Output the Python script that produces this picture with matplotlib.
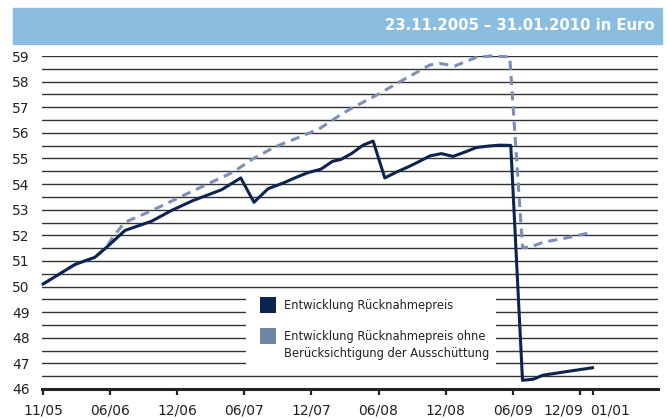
import numpy as np
import matplotlib.pyplot as plt
from matplotlib.patches import Rectangle
from matplotlib.transforms import ScaledTranslation

# x = months since 11/2005 (chart axis is evenly spaced by 6 months)
TICK_POS = [0, 6, 12, 18, 24, 30, 36, 42, 48, 49.2]
TICK_LABELS = ["11/05", "06/06", "12/06", "06/07", "12/07", "06/08",
               "12/08", "06/09", "12/09", "01/01"]

# Entwicklung Rücknahmepreis
solid_x = [0, 2.84, 4.62, 5.67, 7.32, 9.70, 11.48, 13.42, 15.96, 17.68,
           18.86, 20.12, 21.47, 22.51, 23.70, 24.84, 25.89, 26.63, 27.58,
           28.62, 29.52, 30.56, 31.61, 32.65, 33.54, 34.59, 35.63, 36.67,
           37.72, 38.77, 39.96, 40.85, 41.83, 42.88, 43.83, 44.72, 46.82, 49.14]
solid_y = [50.10, 50.86, 51.14, 51.53, 52.19, 52.55, 52.97, 53.36, 53.78, 54.24,
           53.29, 53.82, 54.04, 54.24, 54.45, 54.58, 54.89, 54.96, 55.19,
           55.52, 55.68, 54.24, 54.47, 54.67, 54.86, 55.10, 55.19, 55.08,
           55.25, 55.43, 55.49, 55.52, 55.51, 46.34, 46.38, 46.54, 46.68, 46.83]

# Entwicklung Rücknahmepreis ohne Berücksichtigung der Ausschüttung
dash_x = [0, 2.84, 4.62, 5.67, 6.23, 7.32, 9.70, 12.23, 14.46, 16.97, 18.78,
          20.72, 22.96, 24.75, 26.54, 27.43, 30.11, 31.64, 34.59, 35.48,
          36.82, 38.77, 39.96, 41.74, 42.88, 43.54, 44.72, 46.82, 49.14]
dash_y = [50.10, 50.86, 51.14, 51.53, 51.93, 52.51, 52.96, 53.49, 53.95, 54.46, 54.99,
          55.45, 55.84, 56.17, 56.69, 56.92, 57.54, 57.93, 58.65, 58.71,
          58.61, 58.95, 59.00, 58.97, 51.53, 51.53, 51.73, 51.90, 52.12]

DARK = "#0b2550"
LIGHT = "#7b8fb8"
BAND = "#8bbde0"

plt.rcParams["font.family"] = ["DejaVu Sans"]

fig = plt.figure(figsize=(6.67, 4.19), dpi=100)
ax = fig.add_axes([0.063, 0.0716, 0.9235, 0.7947])

# header band
fig.patches.append(Rectangle((13 / 667, 1 - 44 / 419), (662 - 13) / 667, 36 / 419,
                             transform=fig.transFigure, color=BAND, zorder=0))
fig.text(655 / 667, 1 - 26 / 419, "23.11.2005 \u2013 31.01.2010 in Euro",
         color="white", fontsize=10.7, fontweight="bold", ha="right", va="center")

ax.plot(dash_x, dash_y, color=LIGHT, lw=2.2, dashes=(3, 2), zorder=3, clip_on=False)
ax.plot(solid_x, solid_y, color=DARK, lw=2.2, zorder=4, clip_on=False)

ax.set_xlim(-0.1, 55)
ax.set_ylim(46, 59)
ax.set_yticks(np.arange(46, 60, 1))
ax.set_yticks(np.arange(46.5, 59.5, 1), minor=True)
ax.grid(axis="y", which="both", color="#333333", lw=1.0, zorder=1)
ax.set_axisbelow(True)

ax.set_xticks(TICK_POS)
ax.set_xticklabels(TICK_LABELS)
ax.tick_params(axis="x", direction="out", length=4.5, width=1.6, color="#222222",
               pad=6, labelsize=10, labelcolor="#222222")
ax.tick_params(axis="y", which="both", length=0, pad=9, labelsize=10,
               labelcolor="#222222")

# the last two ticks are close together: push their labels apart
labels = ax.get_xticklabels()
labels[-2].set_horizontalalignment("right")
labels[-2].set_transform(labels[-2].get_transform()
                         + ScaledTranslation(4 / 100, 0, fig.dpi_scale_trans))
labels[-1].set_horizontalalignment("left")
labels[-1].set_transform(labels[-1].get_transform()
                         + ScaledTranslation(-3 / 100, 0, fig.dpi_scale_trans))

for s in ["top", "left", "right"]:
    ax.spines[s].set_visible(False)
ax.spines["bottom"].set_linewidth(2.2)
ax.spines["bottom"].set_color("#222222")

# legend box
ax.add_patch(Rectangle((0.331, 0.057), 0.406, 0.237, transform=ax.transAxes,
                       facecolor="white", edgecolor="none", zorder=2))
ax.add_patch(Rectangle((0.354, 0.228), 0.026, 0.048, transform=ax.transAxes,
                       facecolor=DARK, edgecolor="none", zorder=2.5))
ax.add_patch(Rectangle((0.354, 0.135), 0.026, 0.048, transform=ax.transAxes,
                       facecolor="#7085a8", edgecolor="none", zorder=2.5))
ax.text(0.393, 0.252, "Entwicklung Rücknahmepreis", transform=ax.transAxes,
        fontsize=8.3, color="#222222", va="center", zorder=2.6)
ax.text(0.393, 0.178, "Entwicklung Rücknahmepreis ohne\nBerücksichtigung der Ausschüttung",
        transform=ax.transAxes, fontsize=8.3, color="#222222", va="top",
        linespacing=1.45, zorder=2.6)

fig.savefig("out.png", dpi=100)
